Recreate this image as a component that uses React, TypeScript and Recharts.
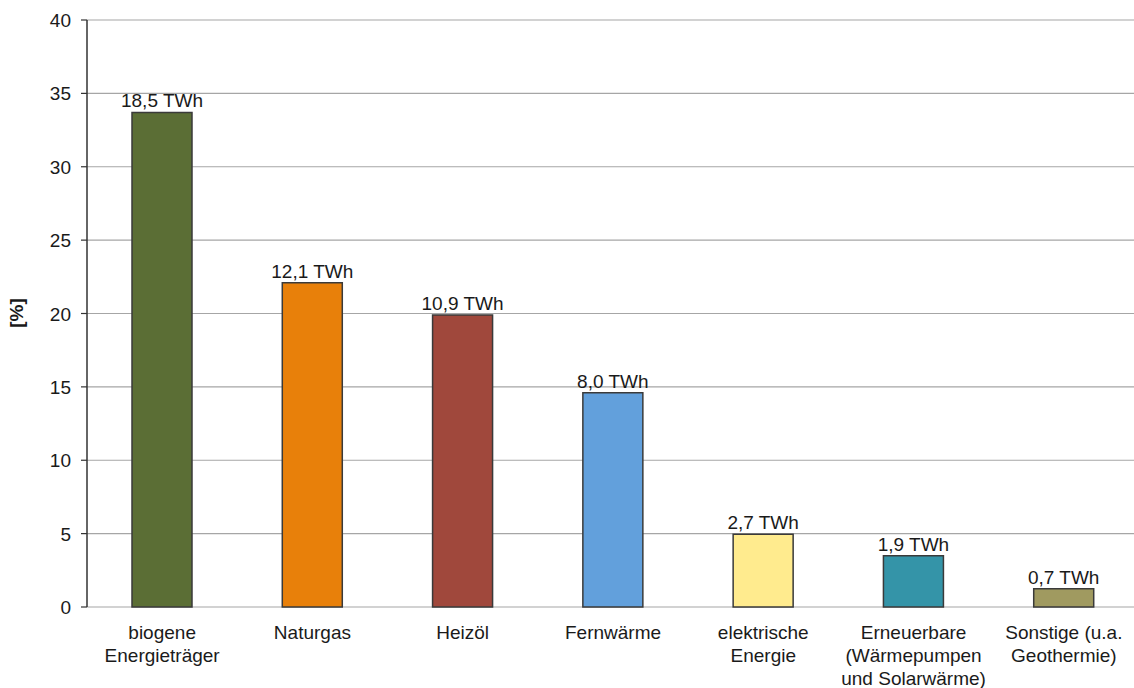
import React from 'react';
import { BarChart, Bar, XAxis, YAxis, CartesianGrid, LabelList, Cell } from 'recharts';

const categories = [
  'biogene\nEnergieträger',
  'Naturgas',
  'Heizöl',
  'Fernwärme',
  'elektrische\nEnergie',
  'Erneuerbare\n(Wärmepumpen\nund Solarwärme)',
  'Sonstige (u.a.\nGeothermie)',
];
const shares = [33.7, 22.1, 19.9, 14.6, 4.95, 3.5, 1.25];
const energyLabels = ['18,5 TWh', '12,1 TWh', '10,9 TWh', '8,0 TWh', '2,7 TWh', '1,9 TWh', '0,7 TWh'];
const colors = ['#5B6E35', '#E8800A', '#A0483C', '#62A0DC', '#FFEB8E', '#3494A8', '#A09A60'];
const yTicks = [0, 5, 10, 15, 20, 25, 30, 35, 40];
const boundaryTicks = [0, 1, 2, 3, 4, 5, 6, 7];

const data = categories.map((c, i) => ({ name: c, value: shares[i], label: energyLabels[i], idx: i + 0.5 }));

const FONT = '"Liberation Sans", Arial, sans-serif';
const FS = 19;

const CatTick = (props: any) => {
  const { x, y, payload } = props;
  const lines = String(payload.value).split('\n');
  return (
    <text x={x} y={y} textAnchor="middle" fontSize={FS} fill="#1a1a1a" fontFamily={FONT}>
      {lines.map((l, i) => (
        <tspan key={i} x={x} dy={i === 0 ? 32 : 23}>
          {l}
        </tspan>
      ))}
    </text>
  );
};

const YTick = (props: any) => {
  const { x, y, payload } = props;
  return (
    <text x={x} y={y} dy={7} textAnchor="end" fontSize={FS} fill="#1a1a1a" fontFamily={FONT}>
      {payload.value}
    </text>
  );
};

const BarLabel = (props: any) => {
  const { x, y, width, value } = props;
  return (
    <text x={x + width / 2} y={y - 5} textAnchor="middle" fontSize={FS} fill="#1a1a1a" fontFamily={FONT}>
      {value}
    </text>
  );
};

export default function App() {
  return (
    <div style={{ position: 'absolute', left: 0, top: 0, width: 1134, height: 688, overflow: 'hidden', background: '#fff' }}>
      <svg width={40} height={688} style={{ position: 'absolute', left: 0, top: 0 }}>
        <text x={0} y={0} transform="translate(23,313) rotate(-90)" textAnchor="middle" fontSize={FS} fontWeight="bold" fill="#1a1a1a" fontFamily={FONT}>
          [%]
        </text>
      </svg>
      <BarChart
        width={1146}
        height={688}
        data={data}
        margin={{ top: 20, right: 7, bottom: 0, left: 0 }}
        barSize={60}
        style={{ fontFamily: FONT }}
      >
        <CartesianGrid vertical={false} stroke="#A6A6A6" strokeWidth={1.2} />
        <XAxis
          xAxisId="b"
          type="number"
          dataKey="idx"
          domain={[0, 7]}
          ticks={boundaryTicks}
          tick={false}
          tickSize={6}
          axisLine={{ stroke: '#333', strokeWidth: 1.5 }}
          tickLine={{ stroke: '#333', strokeWidth: 1.2 }}
          height={0}
        />
        <XAxis
          dataKey="name"
          interval={0}
          tick={<CatTick />}
          tickLine={false}
          axisLine={false}
          tickSize={0}
          tickMargin={0}
          height={81}
        />
        <YAxis
          domain={[0, 40]}
          ticks={yTicks}
          width={87}
          tickSize={6}
          tickMargin={10}
          axisLine={{ stroke: '#333', strokeWidth: 1.5 }}
          tickLine={{ stroke: '#333', strokeWidth: 1.2 }}
          tick={<YTick />}
        />
        <Bar dataKey="value" isAnimationActive={false} stroke="#3a3a3a" strokeWidth={1.5}>
          {data.map((d, i) => (
            <Cell key={i} fill={colors[i]} />
          ))}
          <LabelList dataKey="label" content={<BarLabel />} />
        </Bar>
      </BarChart>
    </div>
  );
}
